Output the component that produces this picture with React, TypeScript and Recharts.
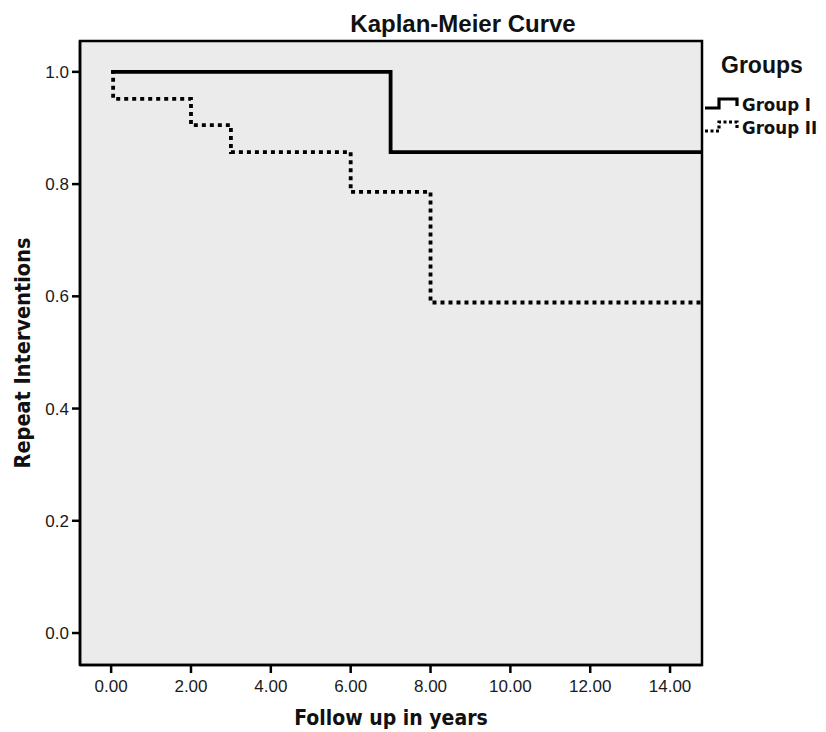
import { LineChart, Line, XAxis, YAxis, CartesianGrid, ReferenceArea, Label } from "recharts";

// Kaplan-Meier estimates (time in years, proportion)
const TIME_MIN = -0.78;
const TIME_MAX = 14.8;
const VAL_MIN = -0.057;
const VAL_MAX = 1.055;

const groupITimes = [0, 7, 14.8];
const groupIValues = [1, 0.857, 0.857];

const groupIITimes = [0, 0.05, 2, 3, 6, 8, 14.8];
const groupIIValues = [1, 0.952, 0.905, 0.857, 0.786, 0.589, 0.589];

const xTicks = [0, 2, 4, 6, 8, 10, 12, 14];
const yTicks = [0, 0.2, 0.4, 0.6, 0.8, 1.0];
const groupNames = ["Group I", "Group II"];

const groupIData = groupITimes.map((t, i) => ({ t, s: groupIValues[i] }));
const groupIIData = groupIITimes.map((t, i) => ({ t, s: groupIIValues[i] }));

const ARIAL = "'Liberation Sans', Arial, sans-serif";
const COND = "'DejaVu Sans Condensed', 'DejaVu Sans', sans-serif";
const DOTS = "4 4";

function LegendIcon({ dotted }: { dotted: boolean }) {
  return (
    <svg width={36} height={15} style={{ display: "block" }}>
      <polyline
        points="1,11 15,11 15,2 33,2 33,9"
        fill="none"
        stroke="#000"
        strokeWidth={3.2}
        strokeDasharray={dotted ? "3 2.5" : undefined}
      />
    </svg>
  );
}

export default function App() {
  return (
    <div style={{ position: "absolute", left: 0, top: 0, width: 826, height: 732, background: "#fff" }}>
      {/* Title */}
      <div
        style={{
          position: "absolute", left: 263, top: 11, width: 400, textAlign: "center",
          fontFamily: ARIAL, fontWeight: 700, fontSize: 24, lineHeight: "26px", color: "#111",
        }}
      >
        Kaplan-Meier Curve
      </div>

      <LineChart width={826} height={732} margin={{ top: 41, right: 124, bottom: 0, left: 0 }}>
        <CartesianGrid fill="#ebebeb" horizontal={false} vertical={false} />
        <XAxis
          type="number"
          dataKey="t"
          domain={[TIME_MIN, TIME_MAX]}
          ticks={xTicks}
          allowDataOverflow
          height={67}
          tickFormatter={(v: number) => v.toFixed(2)}
          tick={{ fontSize: 17, fill: "#1a1a1a", fontFamily: ARIAL }}
          tickSize={8}
          tickMargin={7}
          axisLine={{ stroke: "#000", strokeWidth: 2.5 }}
          tickLine={{ stroke: "#000", strokeWidth: 2.5 }}
        >
          <Label
            content={({ viewBox }: any) => (
              <text
                x={viewBox.x + viewBox.width / 2}
                y={718}
                textAnchor="middle"
                dominantBaseline="central"
                fontFamily={COND}
                fontWeight={700}
                fontSize={21}
                fill="#111"
              >
                Follow up in years
              </text>
            )}
          />
        </XAxis>
        <YAxis
          type="number"
          domain={[VAL_MIN, VAL_MAX]}
          ticks={yTicks}
          allowDataOverflow
          width={80}
          tickFormatter={(v: number) => v.toFixed(1)}
          tick={{ fontSize: 17, fill: "#1a1a1a", fontFamily: ARIAL }}
          tickSize={8}
          tickMargin={3}
          axisLine={{ stroke: "#000", strokeWidth: 2.5 }}
          tickLine={{ stroke: "#000", strokeWidth: 2.5 }}
        >
          <Label
            content={({ viewBox }: any) => {
              const cx = 22;
              const cy = viewBox.y + viewBox.height / 2;
              return (
                <text
                  x={cx}
                  y={cy}
                  transform={`rotate(-90 ${cx} ${cy})`}
                  textAnchor="middle"
                  dominantBaseline="central"
                  fontFamily={COND}
                  fontWeight={700}
                  fontSize={21.5}
                  fill="#111"
                >
                  Repeat Interventions
                </text>
              );
            }}
          />
        </YAxis>
        <ReferenceArea
          x1={TIME_MIN}
          x2={TIME_MAX}
          y1={VAL_MIN}
          y2={VAL_MAX}
          fill="none"
          stroke="#000"
          strokeWidth={2.5}
          ifOverflow="visible"
        />
        <Line
          data={groupIIData}
          dataKey="s"
          name={groupNames[1]}
          type="stepAfter"
          stroke="#000"
          strokeWidth={3.8}
          strokeDasharray={DOTS}
          dot={false}
          activeDot={false}
          isAnimationActive={false}
        />
        <Line
          data={groupIData}
          dataKey="s"
          name={groupNames[0]}
          type="stepAfter"
          stroke="#000"
          strokeWidth={3.8}
          dot={false}
          activeDot={false}
          isAnimationActive={false}
        />
      </LineChart>

      {/* Legend */}
      <div
        style={{
          position: "absolute", left: 721, top: 51, fontFamily: ARIAL, fontWeight: 700,
          fontSize: 23, lineHeight: "28px", color: "#111",
        }}
      >
        Groups
      </div>
      {groupNames.map((g, i) => (
        <div
          key={g}
          style={{
            position: "absolute", left: 704, top: 93 + i * 23, height: 22,
            display: "flex", alignItems: "center", gap: 2,
          }}
        >
          <LegendIcon dotted={i === 1} />
          <span style={{ fontFamily: COND, fontWeight: 700, fontSize: 18.5, color: "#111" }}>{g}</span>
        </div>
      ))}
    </div>
  );
}
